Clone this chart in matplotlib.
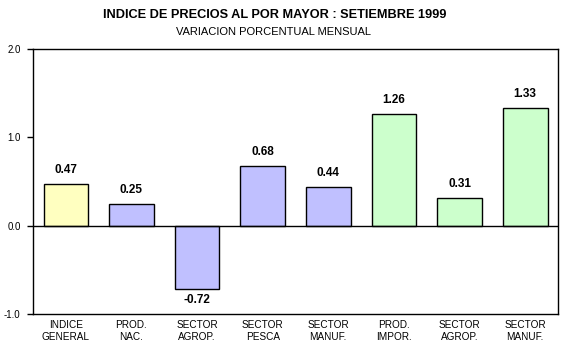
import matplotlib.pyplot as plt
import numpy as np

plt.rcParams['font.family'] = ['Liberation Sans', 'DejaVu Sans']

categories = ["INDICE\nGENERAL", "PROD.\nNAC.", "SECTOR\nAGROP.", "SECTOR\nPESCA",
              "SECTOR\nMANUF.", "PROD.\nIMPOR.", "SECTOR\nAGROP.", "SECTOR\nMANUF."]
values = [0.47, 0.25, -0.72, 0.68, 0.44, 1.26, 0.31, 1.33]
colors = ["#FFFFC0", "#C0C0FF", "#C0C0FF", "#C0C0FF", "#C0C0FF",
          "#CCFFCC", "#CCFFCC", "#CCFFCC"]

fig = plt.figure(figsize=(5.64, 3.54), dpi=100)
ax = fig.add_axes([33 / 564, 40 / 354, 525 / 564, 265 / 354])

x = np.arange(len(values))
ax.bar(x, values, width=0.68, color=colors, edgecolor="black", linewidth=1, zorder=2)
ax.axhline(0, color="black", linewidth=1, zorder=3)

for xi, v in zip(x, values):
    if v >= 0:
        ax.text(xi, v + 0.09, f"{v:.2f}", ha="center", va="bottom",
                fontsize=8.5, fontweight="bold")
    else:
        ax.text(xi, v - 0.05, f"{v:.2f}", ha="center", va="top",
                fontsize=8.5, fontweight="bold")

ax.set_xlim(-0.5, len(values) - 0.5)
ax.set_ylim(-1.0, 2.0)
ax.set_yticks([-1.0, 0.0, 1.0, 2.0])
ax.set_yticklabels(["-1.0", "0.0", "1.0", "2.0"], fontsize=7)
ax.set_xticks(x)
ax.set_xticklabels(categories, fontsize=7.2, linespacing=1.35)
ax.tick_params(axis="x", length=0, pad=4)
ax.tick_params(axis="y", length=4, width=1, pad=5)
for s in ax.spines.values():
    s.set_linewidth(1)

fig.text(275 / 564, 1 - 15 / 354, "INDICE DE PRECIOS AL POR MAYOR : SETIEMBRE 1999",
         ha="center", va="center", fontsize=9.2, fontweight="bold")
fig.text(273 / 564, 1 - 32 / 354, "VARIACION PORCENTUAL MENSUAL",
         ha="center", va="center", fontsize=8)

fig.savefig("out.png", dpi=100)
